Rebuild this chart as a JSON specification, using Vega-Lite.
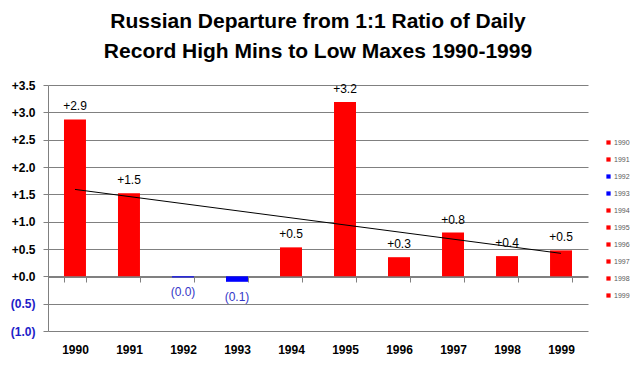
{
  "$schema": "https://vega.github.io/schema/vega-lite/v6.json",
  "width": 540,
  "height": 246,
  "autosize": {"type": "none"},
  "padding": {"left": 48, "top": 85, "right": 53, "bottom": 35},
  "background": "white",
  "config": {
    "view": {"stroke": null},
    "font": "Liberation Sans",
    "axis": {"domain": true, "domainColor": "#808080", "ticks": true, "tickColor": "#808080", "gridColor": "#808080", "gridOpacity": 1}
  },
  "title": {
    "text": ["Russian Departure from 1:1 Ratio of Daily", "Record High Mins to Low Maxes 1990-1999"],
    "font": "Liberation Sans",
    "fontSize": 21,
    "fontWeight": "bold",
    "color": "black",
    "lineHeight": 30,
    "offset": 17,
    "anchor": "middle"
  },
  "datasets": {
    "bars": [
      {"year": "1990", "value": 2.87, "label": "+2.9"},
      {"year": "1991", "value": 1.52, "label": "+1.5"},
      {"year": "1992", "value": -0.02, "label": "(0.0)"},
      {"year": "1993", "value": -0.1, "label": "(0.1)"},
      {"year": "1994", "value": 0.53, "label": "+0.5"},
      {"year": "1995", "value": 3.19, "label": "+3.2"},
      {"year": "1996", "value": 0.35, "label": "+0.3"},
      {"year": "1997", "value": 0.8, "label": "+0.8"},
      {"year": "1998", "value": 0.37, "label": "+0.4"},
      {"year": "1999", "value": 0.475, "label": "+0.5"}
    ],
    "trend": [
      {"year": "1990", "trend": 1.59},
      {"year": "1999", "trend": 0.42}
    ]
  },
  "encoding": {
    "x": {
      "field": "year", "type": "ordinal",
      "scale": {"paddingInner": 0.593, "paddingOuter": 0.296},
      "axis": {
        "title": null, "labelAngle": 0, "offset": -54,
        "tickSize": 5, "tickBand": "extent",
        "labelFontWeight": "bold", "labelFontSize": 12, "labelColor": "black",
        "labelPadding": 62, "grid": false
      }
    },
    "y": {
      "field": "value", "type": "quantitative",
      "scale": {"domain": [-1, 3.5], "nice": false, "zero": false},
      "axis": {
        "title": null,
        "values": [-1, -0.5, 0, 0.5, 1, 1.5, 2, 2.5, 3, 3.5],
        "labelOverlap": false,
        "labelExpr": "datum.value < 0 ? '(' + format(-datum.value, '.1f') + ')' : '+' + format(datum.value, '.1f')",
        "labelColor": {"condition": {"test": "datum.value < 0", "value": "#2020C8"}, "value": "black"},
        "labelFontWeight": "bold", "labelFontSize": 12,
        "labelPadding": 8, "tickSize": 5, "grid": true
      }
    }
  },
  "layer": [
    {
      "data": {"name": "bars"},
      "mark": {"type": "bar"},
      "encoding": {
        "color": {
          "field": "year", "type": "nominal",
          "scale": {
            "domain": ["1990", "1991", "1992", "1993", "1994", "1995", "1996", "1997", "1998", "1999"],
            "range": ["#FF0000", "#FF0000", "#0000FF", "#0000FF", "#FF0000", "#FF0000", "#FF0000", "#FF0000", "#FF0000", "#FF0000"]
          },
          "legend": {
            "title": null, "orient": "none", "legendX": 557, "legendY": 54,
            "symbolType": "square", "symbolSize": 18, "symbolStrokeWidth": 0,
            "labelFontSize": 7, "labelColor": "#595959", "labelOffset": 2,
            "rowPadding": 9.0
          }
        }
      }
    },
    {
      "data": {"name": "trend"},
      "mark": {"type": "line", "color": "black", "strokeWidth": 1},
      "encoding": {
        "y": {"field": "trend", "type": "quantitative"}
      }
    },
    {
      "data": {"name": "bars"},
      "transform": [{"filter": "datum.value >= 0"}],
      "mark": {"type": "text", "baseline": "alphabetic", "dy": -9, "fontSize": 12, "color": "black"},
      "encoding": {
        "text": {"field": "label"}
      }
    },
    {
      "data": {"name": "bars"},
      "transform": [{"filter": "datum.value < 0"}],
      "mark": {"type": "text", "baseline": "alphabetic", "dy": 19, "fontSize": 12, "color": "#3535C8"},
      "encoding": {
        "text": {"field": "label"}
      }
    }
  ]
}
